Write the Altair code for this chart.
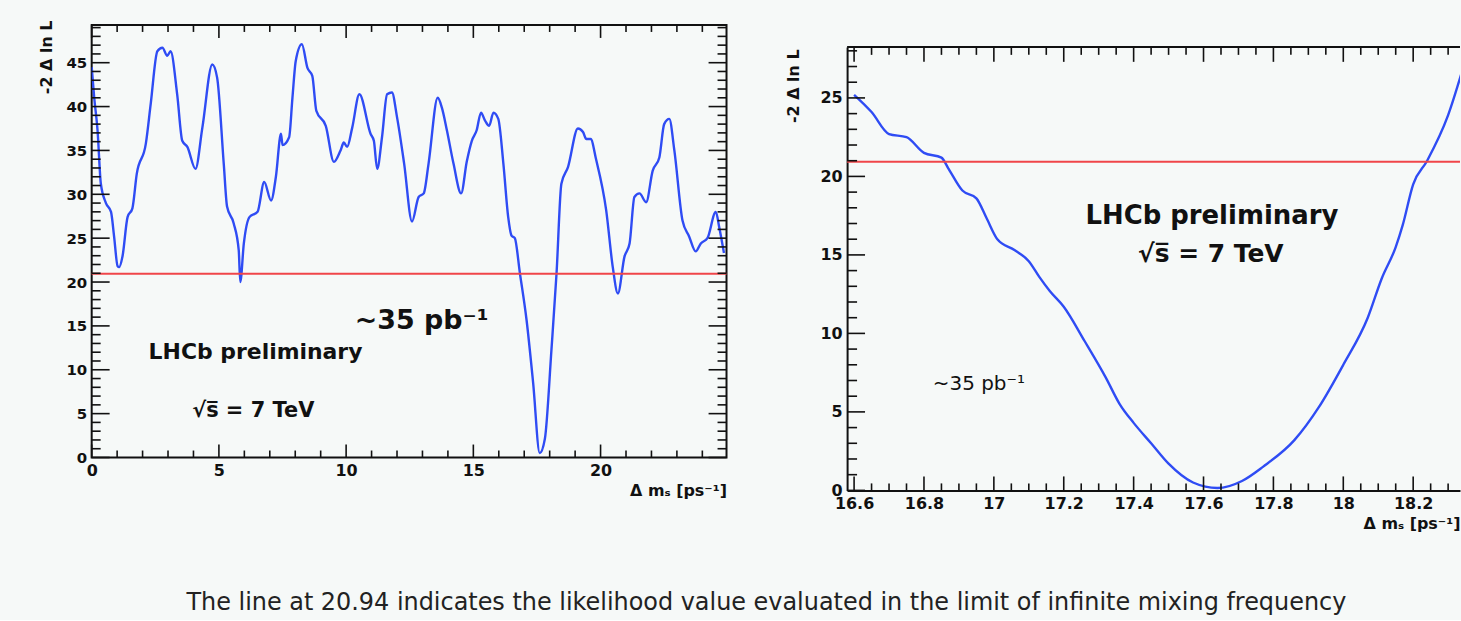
import altair as alt
import pandas as pd

# -2 Delta lnL scan over the full Delta m_s range
scan_dms = [0.00, 0.10, 0.23, 0.36, 0.56, 0.76, 0.88, 1.02, 1.08, 1.21, 1.41, 1.60, 1.77, 2.13,
            2.32, 2.58, 2.78, 2.97, 3.10, 3.36, 3.56, 3.76, 4.08, 4.35, 4.74, 4.93, 5.19, 5.32,
            5.58, 5.78, 5.84, 5.98, 6.20, 6.52, 6.78, 7.05, 7.24, 7.44, 7.50, 7.76, 7.89, 8.02,
            8.26, 8.48, 8.67, 8.83, 9.20, 9.52, 9.78, 9.91, 10.04, 10.24, 10.52, 10.96, 11.09,
            11.22, 11.41, 11.61, 11.80, 12.00, 12.28, 12.59, 12.85, 13.05, 13.24, 13.60, 13.76,
            13.96, 14.22, 14.52, 14.74, 14.94, 15.13, 15.30, 15.46, 15.62, 15.79, 15.98, 16.18,
            16.37, 16.50, 16.63, 16.83, 17.09, 17.35, 17.61, 17.81, 18.07, 18.27, 18.46, 18.72,
            19.11, 19.31, 19.44, 19.61, 19.83, 20.22, 20.48, 20.68, 20.94, 21.14, 21.33, 21.53,
            21.79, 22.05, 22.31, 22.50, 22.70, 22.90, 23.22, 23.48, 23.74, 23.94, 24.20, 24.53,
            24.66, 24.85]
scan_nll = [44.5, 41.0, 37.3, 31.2, 29.0, 28.0, 25.2, 21.8, 21.7, 22.9, 27.4, 28.4, 32.3, 35.8,
            40.3, 46.3, 46.7, 45.8, 46.3, 41.4, 36.1, 35.4, 32.9, 37.6, 44.8, 43.3, 33.5, 28.6,
            26.7, 23.6, 20.0, 24.4, 27.4, 28.0, 31.4, 29.3, 32.0, 36.9, 35.6, 36.5, 41.0, 45.2,
            47.1, 44.4, 43.5, 39.5, 37.8, 33.7, 35.0, 35.9, 35.4, 37.6, 41.4, 36.9, 36.1,
            32.9, 36.5, 41.4, 41.6, 38.8, 33.5, 26.9, 29.7, 30.1, 33.5, 41.0, 39.9,
            37.3, 33.5, 30.1, 33.7, 36.1, 37.3, 39.3, 38.4, 37.8, 39.3, 38.6, 33.5,
            27.4, 25.3, 25.0, 21.0, 15.7, 8.5, 0.5, 2.1, 12.3, 21.0, 31.2, 33.1,
            37.5, 37.1, 36.3, 36.3, 33.9, 28.2, 21.7, 18.7, 22.9, 24.4, 29.7, 30.1,
            29.1, 32.7, 34.2, 38.0, 38.6, 35.0, 27.0, 25.2, 23.5, 24.4, 25.0, 28.0,
            26.3, 23.3]

# zoom around the minimum
zoom_dms = [16.60, 16.65, 16.70, 16.75, 16.80, 16.85, 16.87, 16.91, 16.95, 16.98, 17.01, 17.06,
            17.10, 17.13, 17.16, 17.20, 17.26, 17.32, 17.36, 17.40, 17.45, 17.50, 17.57, 17.64,
            17.71, 17.77, 17.86, 17.93, 18.00, 18.07, 18.11, 18.15, 18.17, 18.20, 18.24, 18.30,
            18.34]
zoom_nll = [25.2, 24.1, 22.7, 22.5, 21.5, 21.2, 20.5, 19.1, 18.6, 17.3, 16.0, 15.3,
            14.6, 13.6, 12.7, 11.7, 9.5, 7.2, 5.5, 4.3, 3.0, 1.7, 0.5, 0.15,
            0.6, 1.5, 3.2, 5.3, 8.0, 11.0, 13.5, 15.5, 16.9, 19.5, 21.0, 23.9,
            26.7]

# likelihood in the limit of infinite mixing frequency
inf_freq_level = 20.94

# tick marks
scan_x_major = [0, 5, 10, 15, 20]
scan_y_major = [0, 5, 10, 15, 20, 25, 30, 35, 40, 45]
zoom_x_major = [16.6, 16.8, 17.0, 17.2, 17.4, 17.6, 17.8, 18.0, 18.2]
zoom_y_major = [0, 5, 10, 15, 20, 25]

scan_x_minor = [v for v in range(0, 25) if v % 5]
scan_y_minor = [v for v in range(0, 50) if v % 5]
zoom_x_minor = [round(16.6 + 0.05 * i, 2) for i in range(35) if i % 4]
zoom_y_minor = [v for v in range(0, 29) if v % 5]

# annotations (data coordinates)
scan_notes = ["LHCb preliminary", "√s̅ = 7 TeV", "~35 pb⁻¹"]
scan_note_x = [6.44, 6.35, 12.97]
scan_note_y = [11.97, 5.27, 15.6]
zoom_notes = ["LHCb preliminary", "√s̅ = 7 TeV", "~35 pb⁻¹"]
zoom_note_x = [17.624, 17.621, 16.957]
zoom_note_y = [17.45, 15.04, 6.79]

caption = ("The line at {:.2f} indicates the likelihood value evaluated "
           "in the limit of infinite mixing frequency").format(inf_freq_level)

FONT = "DejaVu Sans"
INK = "#111111"
BLUE = "#2f4cf4"
RED = "#f0464a"
BG = "#f6f9f8"

# left panel frame
LW, LH = 637, 434
# right panel: its frame starts ZTOP px below the row top and is ZH px tall
RW, ZTOP, ZH = 615, 22, 445
RH = ZTOP + ZH

scan_xs = alt.Scale(domain=[0, 24.95], nice=False, zero=False)
scan_ys = alt.Scale(domain=[0, 49.3], nice=False, zero=False)
zoom_xs = alt.Scale(domain=[16.58, 18.334], nice=False, zero=False)
zoom_ys = alt.Scale(domain=[0, 28.25], nice=False, zero=False, range=[RH, ZTOP])


def inward_ticks(values, channel, scale, side, length, near, far):
    """Frame ticks pointing into the plot, drawn as rules.
    near/far are the pixel positions of the two frame edges across the axis."""
    base = alt.Chart(pd.DataFrame({"v": values})).mark_rule(color=INK, strokeWidth=1.6)
    if channel == "y":
        pos = alt.Y("v:Q", scale=scale, axis=None)
        if side == "left":
            return base.encode(y=pos, x=alt.value(near), x2=alt.value(near + length))
        return base.encode(y=pos, x=alt.value(far), x2=alt.value(far - length))
    pos = alt.X("v:Q", scale=scale, axis=None)
    if side == "bottom":
        return base.encode(x=pos, y=alt.value(far), y2=alt.value(far - length))
    return base.encode(x=pos, y=alt.value(near), y2=alt.value(near + length))


def axis(values, title, label_size, domain, orient, **kw):
    return alt.Axis(
        values=values, title=title, orient=orient, ticks=False, grid=False, domain=domain,
        domainColor=INK, domainWidth=2,
        labelFont=FONT, labelFontSize=label_size, labelColor=INK, labelPadding=5,
        labelFontWeight="bold", labelFlush=False, labelOverlap=False,
        titleFont=FONT, titleFontSize=16, titleFontWeight="bold", titleColor=INK,
        titleBaseline="middle", titleAlign="right", titleAnchor="end", **kw)


# ---------- full-range scan ----------
scan_df = pd.DataFrame({"dms": scan_dms, "nll": scan_nll})
scan_line = alt.Chart(scan_df).mark_line(
    color=BLUE, strokeWidth=2.4, interpolate="monotone", clip=True
).encode(
    x=alt.X("dms:Q", scale=scan_xs,
            axis=axis(scan_x_major, "Δ mₛ [ps⁻¹]", 16, False, "bottom",
                      titleX=LW, titleY=33)),
    y=alt.Y("nll:Q", scale=scan_ys,
            axis=axis(scan_y_major, "-2 Δ ln L", 15, False, "left",
                      titleX=-45, titleY=-5, titleAngle=-90)),
)
scan_rule = alt.Chart().mark_rule(color=RED, strokeWidth=2).encode(
    y=alt.YDatum(inf_freq_level, scale=scan_ys, axis=None))
scan_text_df = pd.DataFrame({"t": scan_notes, "x": scan_note_x, "y": scan_note_y,
                             "s": [22, 21, 27]})
scan_text = alt.Chart(scan_text_df).mark_text(
    font=FONT, fontWeight="bold", color=INK, align="center", baseline="middle"
).encode(
    x=alt.X("x:Q", scale=scan_xs, axis=None),
    y=alt.Y("y:Q", scale=scan_ys, axis=None),
    text="t:N",
    size=alt.Size("s:Q", scale=None, legend=None),
)
scan_panel = alt.layer(
    scan_line, scan_rule, scan_text,
    inward_ticks(scan_y_major, "y", scan_ys, "left", 18, 0, LW),
    inward_ticks(scan_y_minor, "y", scan_ys, "left", 9, 0, LW),
    inward_ticks(scan_y_major, "y", scan_ys, "right", 18, 0, LW),
    inward_ticks(scan_y_minor, "y", scan_ys, "right", 9, 0, LW),
    inward_ticks(scan_x_major, "x", scan_xs, "bottom", 13, 0, LH),
    inward_ticks(scan_x_minor, "x", scan_xs, "bottom", 7, 0, LH),
    inward_ticks(scan_x_major, "x", scan_xs, "top", 13, 0, LH),
    inward_ticks(scan_x_minor, "x", scan_xs, "top", 7, 0, LH),
).resolve_axis(x="independent", y="independent").properties(
    width=LW, height=LH,
    view=alt.ViewBackground(stroke=INK, strokeWidth=2),
)

# ---------- zoom around the minimum ----------
zoom_df = pd.DataFrame({"dms": zoom_dms, "nll": zoom_nll})
zoom_line = alt.Chart(zoom_df).mark_line(
    color=BLUE, strokeWidth=2.4, interpolate="monotone", clip=True
).encode(
    x=alt.X("dms:Q", scale=zoom_xs,
            axis=axis(zoom_x_major, "Δ mₛ [ps⁻¹]", 16, True, "bottom",
                      titleX=RW, titleY=33, format=".1~f")),
    y=alt.Y("nll:Q", scale=zoom_ys,
            axis=axis(zoom_y_major, "-2 Δ ln L", 16, True, "left",
                      titleX=-54, titleY=ZTOP + 2, titleAngle=-90)),
)
zoom_rule = alt.Chart().mark_rule(color=RED, strokeWidth=2).encode(
    y=alt.YDatum(inf_freq_level, scale=zoom_ys, axis=None))
zoom_top = alt.Chart().mark_rule(color=INK, strokeWidth=2).encode(y=alt.value(ZTOP))
zoom_text_df = pd.DataFrame({"t": zoom_notes, "x": zoom_note_x, "y": zoom_note_y,
                             "s": [26, 25, 20]})
zoom_text_bold = alt.Chart(zoom_text_df.iloc[:2]).mark_text(
    font=FONT, fontWeight="bold", color=INK, align="center", baseline="middle"
).encode(
    x=alt.X("x:Q", scale=zoom_xs, axis=None),
    y=alt.Y("y:Q", scale=zoom_ys, axis=None),
    text="t:N",
    size=alt.Size("s:Q", scale=None, legend=None),
)
zoom_text_plain = alt.Chart(zoom_text_df.iloc[2:]).mark_text(
    font=FONT, fontWeight="normal", color=INK, align="center", baseline="middle"
).encode(
    x=alt.X("x:Q", scale=zoom_xs, axis=None),
    y=alt.Y("y:Q", scale=zoom_ys, axis=None),
    text="t:N",
    size=alt.Size("s:Q", scale=None, legend=None),
)
zoom_panel = alt.layer(
    zoom_line, zoom_rule, zoom_top, zoom_text_bold, zoom_text_plain,
    inward_ticks(zoom_y_major, "y", zoom_ys, "left", 18, 0, RW),
    inward_ticks(zoom_y_minor, "y", zoom_ys, "left", 10, 0, RW),
    inward_ticks(zoom_x_major, "x", zoom_xs, "bottom", 14, ZTOP, RH),
    inward_ticks(zoom_x_minor, "x", zoom_xs, "bottom", 7, ZTOP, RH),
    inward_ticks(zoom_x_major, "x", zoom_xs, "top", 15, ZTOP, RH),
    inward_ticks(zoom_x_minor, "x", zoom_xs, "top", 8, ZTOP, RH),
).resolve_axis(x="independent", y="independent").properties(
    width=RW, height=RH,
)

chart = alt.hconcat(scan_panel, zoom_panel, spacing=56).properties(
    title=alt.TitleParams(text=caption, orient="bottom", anchor="middle",
                          font=FONT, fontSize=24, fontWeight="normal", color="#222222",
                          offset=60, dx=17),
    padding={"left": 37, "top": 18, "right": 0, "bottom": 4},
    background=BG,
).configure_view(stroke=None)

chart.save("out.html", embed_options={"renderer": "svg", "actions": False})
